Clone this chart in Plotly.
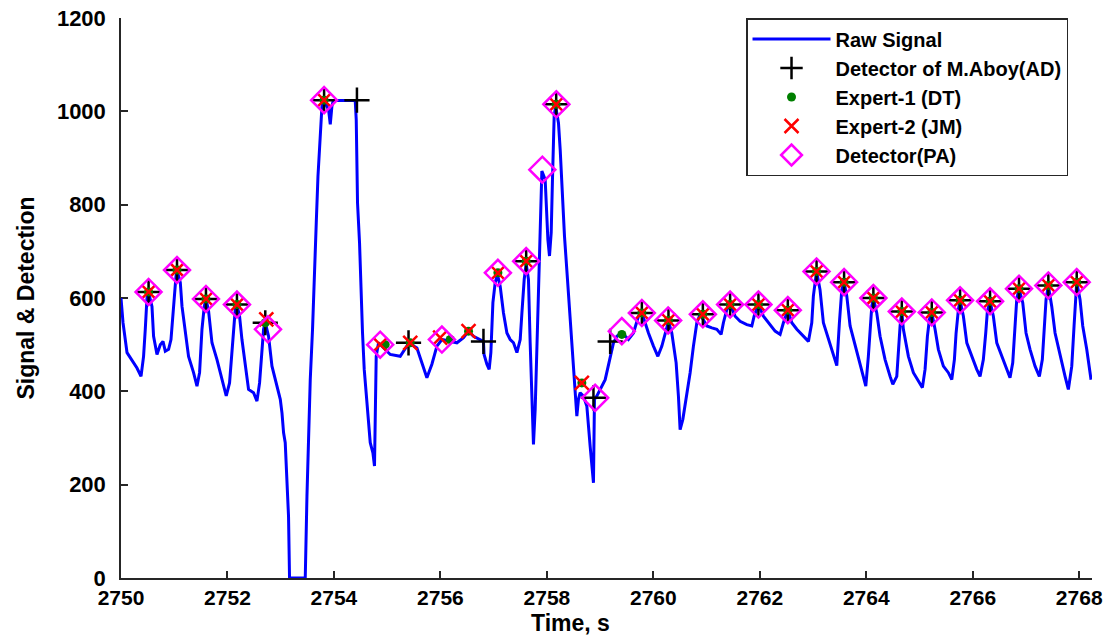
import plotly.graph_objects as go

# ---------------- data ----------------
sig_t = [2750.000, 2750.038, 2750.113, 2750.207, 2750.300, 2750.376, 2750.424, 2750.456, 2750.488, 2750.518,
         2750.582, 2750.612, 2750.676, 2750.738, 2750.789, 2750.832, 2750.894, 2750.939, 2750.988, 2751.033,
         2751.052, 2751.114, 2751.146, 2751.208, 2751.269, 2751.363, 2751.427, 2751.476, 2751.521, 2751.564,
         2751.596, 2751.645, 2751.709, 2751.803, 2751.897, 2751.977, 2752.039, 2752.103, 2752.146, 2752.178,
         2752.227, 2752.272, 2752.334, 2752.396, 2752.490, 2752.554, 2752.603, 2752.648, 2752.678, 2752.710,
         2752.772, 2752.836, 2752.930, 2752.992, 2753.024, 2753.054, 2753.085, 2753.147, 2753.166, 2753.461,
         2753.493, 2753.523, 2753.555, 2753.598, 2753.636, 2753.668, 2753.700, 2753.743, 2753.775, 2753.805,
         2753.899, 2753.931, 2753.962, 2753.987, 2754.400, 2754.419, 2754.443, 2754.481, 2754.507, 2754.537,
         2754.569, 2754.607, 2754.650, 2754.682, 2754.732, 2754.762, 2754.794, 2754.838, 2755.057, 2755.245,
         2755.371, 2755.401, 2755.559, 2755.653, 2755.746, 2755.840, 2755.934, 2756.028, 2756.184, 2756.310,
         2756.434, 2756.528, 2756.622, 2756.809, 2756.820, 2756.873, 2756.916, 2756.948, 2756.986, 2757.029,
         2757.072, 2757.123, 2757.185, 2757.249, 2757.311, 2757.373, 2757.437, 2757.499, 2757.531, 2757.574,
         2757.611, 2757.654, 2757.686, 2757.718, 2757.748, 2757.780, 2757.812, 2757.842, 2757.874, 2757.906,
         2757.968, 2758.019, 2758.049, 2758.081, 2758.105, 2758.137, 2758.165, 2758.218, 2758.250, 2758.282,
         2758.331, 2758.387, 2758.438, 2758.488, 2758.532, 2758.563, 2758.593, 2758.625, 2758.687, 2758.751,
         2758.813, 2758.875, 2758.894, 2758.939, 2759.095, 2759.189, 2759.251, 2759.315, 2759.408, 2759.532,
         2759.626, 2759.720, 2759.784, 2759.846, 2759.908, 2760.002, 2760.085, 2760.160, 2760.222, 2760.284,
         2760.347, 2760.428, 2760.471, 2760.503, 2760.554, 2760.629, 2760.691, 2760.753, 2760.817, 2760.879,
         2761.005, 2761.099, 2761.192, 2761.273, 2761.316, 2761.380, 2761.442, 2761.536, 2761.630, 2761.756,
         2761.850, 2761.893, 2761.974, 2762.068, 2762.161, 2762.287, 2762.381, 2762.443, 2762.526, 2762.601,
         2762.695, 2762.819, 2762.913, 2762.976, 2763.006, 2763.066, 2763.131, 2763.194, 2763.288, 2763.382,
         2763.446, 2763.495, 2763.540, 2763.583, 2763.634, 2763.696, 2763.790, 2763.884, 2763.991, 2764.039,
         2764.071, 2764.103, 2764.133, 2764.197, 2764.259, 2764.353, 2764.447, 2764.498, 2764.573, 2764.603,
         2764.635, 2764.667, 2764.697, 2764.791, 2764.885, 2764.979, 2765.054, 2765.104, 2765.148, 2765.185,
         2765.230, 2765.292, 2765.354, 2765.448, 2765.542, 2765.606, 2765.655, 2765.687, 2765.730, 2765.762,
         2765.824, 2765.888, 2765.981, 2766.075, 2766.137, 2766.199, 2766.244, 2766.274, 2766.325, 2766.387,
         2766.451, 2766.544, 2766.638, 2766.700, 2766.751, 2766.781, 2766.826, 2766.869, 2766.939, 2767.001,
         2767.076, 2767.170, 2767.251, 2767.307, 2767.345, 2767.377, 2767.420, 2767.484, 2767.546, 2767.640,
         2767.734, 2767.796, 2767.860, 2767.903, 2767.934, 2767.953, 2768.015, 2768.066, 2768.141, 2768.203,
         2768.222]
sig_v = [600, 547, 483, 465, 450, 432, 475, 533, 600, 612,
         582, 518, 479, 500, 507, 486, 490, 511, 590, 647,
         659, 633, 582, 525, 475, 440, 411, 440, 533, 582,
         598, 572, 504, 468, 425, 390, 418, 511, 575, 586,
         561, 511, 454, 404, 397, 379, 418, 483, 533, 547,
         518, 454, 411, 383, 354, 311, 290, 132, 0, 0,
         175, 311, 425, 533, 640, 761, 861, 954, 1011, 1023,
         1004, 972, 1011, 1023, 1023, 982, 804, 718, 611, 525,
         447, 390, 340, 290, 268, 240, 475, 504, 479, 475,
         497, 504, 493, 461, 429, 458, 497, 511, 507, 504,
         515, 529, 518, 507, 479, 458, 447, 483, 590, 633,
         650, 625, 568, 525, 511, 504, 483, 511, 568, 640,
         674, 640, 504, 375, 286, 361, 497, 647, 790, 872,
         854, 725, 690, 740, 854, 990, 1011, 975, 918, 833,
         732, 640, 554, 468, 383, 347, 383, 397, 390, 368,
         282, 204, 383, 390, 425, 475, 504, 518, 526, 511,
         525, 561, 568, 547, 525, 497, 475, 497, 525, 550,
         525, 461, 390, 318, 340, 390, 440, 497, 547, 565,
         540, 536, 533, 522, 547, 575, 586, 561, 550, 543,
         540, 561, 586, 561, 547, 529, 522, 547, 574, 547,
         533, 518, 507, 547, 604, 657, 618, 547, 511, 475,
         455, 547, 618, 633, 604, 540, 497, 454, 411, 475,
         540, 582, 600, 568, 518, 468, 432, 415, 432, 490,
         540, 571, 533, 475, 440, 422, 408, 447, 518, 554,
         569, 533, 490, 454, 440, 425, 468, 525, 575, 595,
         561, 504, 475, 447, 432, 468, 525, 571, 593, 561,
         504, 475, 447, 429, 461, 525, 597, 620, 590, 525,
         490, 454, 432, 468, 540, 597, 627, 582, 525, 475,
         432, 404, 454, 540, 597, 634, 597, 540, 490, 440,
         425]

# Detector of M.Aboy (AD)
ad_t = [2750.518, 2751.052, 2751.596, 2752.178, 2752.710, 2753.815, 2754.432, 2755.401, 2756.809,
        2757.611, 2758.175, 2758.875, 2759.189, 2759.784, 2760.284, 2760.930, 2761.442, 2761.974,
        2762.526, 2763.066, 2763.583, 2764.133, 2764.667, 2765.230, 2765.762, 2766.325, 2766.869,
        2767.420, 2767.953]
ad_v = [613, 660, 598, 586, 547, 1024, 1024, 504, 507,
        679, 1015, 386, 507, 568, 552, 565, 586, 586,
        574, 657, 634, 600, 571, 569, 595, 593, 620,
        627, 634]

# Expert-1 (DT)
dt_t = [2750.518, 2751.052, 2751.596, 2752.178, 2752.710, 2753.815, 2754.963, 2755.433, 2756.184,
        2756.528, 2757.080, 2757.611, 2758.175, 2758.657, 2759.408, 2759.784, 2760.284, 2760.930,
        2761.442, 2761.974, 2762.526, 2763.066, 2763.583, 2764.133, 2764.667, 2765.230, 2765.762,
        2766.325, 2766.869, 2767.420, 2767.953]
dt_v = [613, 660, 598, 586, 547, 1024, 500, 504, 511,
        529, 654, 679, 1015, 418, 522, 568, 552, 565,
        586, 586, 574, 657, 634, 600, 571, 569, 595,
        593, 620, 627, 634]

# Expert-2 (JM)
jm_t = [2750.518, 2751.052, 2751.596, 2752.178, 2752.729, 2753.815, 2754.869, 2755.433, 2755.996,
        2756.528, 2757.080, 2757.611, 2758.175, 2758.657, 2759.784, 2760.284, 2760.930, 2761.442,
        2761.974, 2762.526, 2763.066, 2763.583, 2764.133, 2764.667, 2765.230, 2765.762, 2766.325,
        2766.869, 2767.420, 2767.953]
jm_v = [613, 660, 598, 586, 554, 1024, 500, 504, 515,
        529, 654, 679, 1015, 418, 568, 552, 565, 586,
        586, 574, 657, 634, 600, 571, 569, 595, 593,
        620, 627, 634]

# Detector (PA)
pa_t = [2750.518, 2751.052, 2751.596, 2752.178, 2752.761, 2753.815, 2754.869, 2756.028, 2757.080,
        2757.611, 2757.915, 2758.178, 2758.907, 2759.408, 2759.784, 2760.278, 2760.930, 2761.442,
        2761.974, 2762.526, 2763.066, 2763.583, 2764.133, 2764.667, 2765.230, 2765.762, 2766.325,
        2766.869, 2767.420, 2767.953]
pa_v = [613, 660, 598, 586, 533, 1024, 500, 511, 654,
        679, 875, 1015, 386, 529, 568, 552, 565, 586,
        586, 574, 657, 634, 600, 571, 569, 595, 593,
        620, 627, 634]

x_ticks = [2750, 2752, 2754, 2756, 2758, 2760, 2762, 2764, 2766, 2768]
y_ticks = [0, 200, 400, 600, 800, 1000, 1200]

# ---------------- figure ----------------
FONT = "Liberation Sans, Arial, sans-serif"
AXC = "#262626"

fig = go.Figure()
fig.add_trace(go.Scatter(x=sig_t, y=sig_v, mode="lines", name="Raw Signal",
                         line=dict(color="#0000FF", width=3)))
fig.add_trace(go.Scatter(x=ad_t, y=ad_v, mode="markers", name="Detector of M.Aboy(AD)",
                         marker=dict(symbol="cross-thin", size=18, color="black",
                                     line=dict(color="black", width=2.5))))
fig.add_trace(go.Scatter(x=dt_t, y=dt_v, mode="markers", name="Expert-1 (DT)",
                         marker=dict(symbol="circle", size=9, color="#007F00",
                                     line=dict(width=0))))
fig.add_trace(go.Scatter(x=jm_t, y=jm_v, mode="markers", name="Expert-2 (JM)",
                         marker=dict(symbol="x-thin", size=14, color="#FF0000",
                                     line=dict(color="#FF0000", width=2.5))))
fig.add_trace(go.Scatter(x=pa_t, y=pa_v, mode="markers", name="Detector(PA)",
                         marker=dict(symbol="diamond-open", size=20, color="#FF00FF",
                                     line=dict(color="#FF00FF", width=2.5))))

fig.update_layout(
    width=1107, height=641,
    margin=dict(l=121, r=15, t=18, b=63, autoexpand=False),
    paper_bgcolor="white", plot_bgcolor="white",
    font=dict(family=FONT, size=21, color="black", weight="bold"),
    showlegend=True,
    legend=dict(x=0.9753, xanchor="right", y=1.0, yanchor="top",
                bgcolor="white", bordercolor=AXC, borderwidth=1.5,
                font=dict(family=FONT, size=20, color="black", weight="bold"),
                itemwidth=78, tracegroupgap=0),
    xaxis=dict(range=[2750, 2768.24], tickmode="array", tickvals=x_ticks,
               ticktext=[str(v) for v in x_ticks], automargin=False,
               ticklabeloverflow="allow",
               showgrid=False, zeroline=False, showline=True, linecolor=AXC, linewidth=1.5,
               ticks="inside", ticklen=7, tickwidth=1.5, tickcolor=AXC,
               tickfont=dict(family=FONT, size=21, color="black", weight="bold"),
               layer="below traces"),
    yaxis=dict(range=[0, 1200], tickmode="array", tickvals=y_ticks,
               ticktext=[str(v) for v in y_ticks], automargin=False,
               ticklabeloverflow="allow",
               showgrid=False, zeroline=False, showline=True, linecolor=AXC, linewidth=1.5,
               ticks="inside", ticklen=7, tickwidth=1.5, tickcolor=AXC,
               tickfont=dict(family=FONT, size=22, color="black", weight="bold"),
               ticklabelstandoff=9,
               title=dict(text="Signal & Detection", standoff=16,
                          font=dict(family=FONT, size=23, color="black", weight="bold")),
               layer="below traces"),
    annotations=[dict(text="Time, s", xref="paper", yref="paper", x=0.4634, y=0,
                      xanchor="center", yanchor="top", yshift=-30, showarrow=False,
                      font=dict(family=FONT, size=23, color="black", weight="bold"))],
)

fig.write_html("out.html",
               config={"displayModeBar": False},
               post_script="document.body.style.margin='0px';document.body.style.overflow='hidden';")
